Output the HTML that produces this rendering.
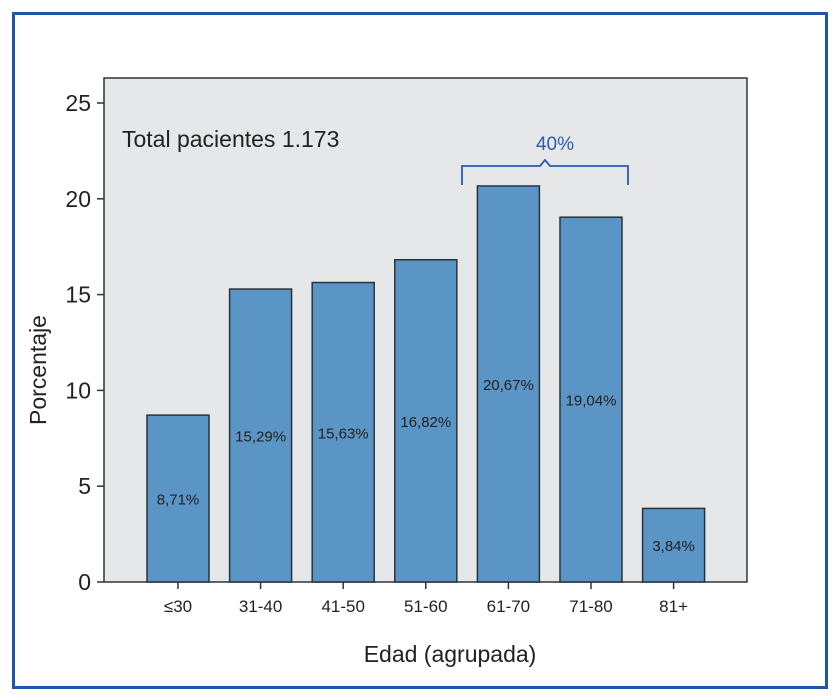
<!DOCTYPE html>
<html><head><meta charset="utf-8"><style>
html,body{margin:0;padding:0;background:#fff;}
svg{display:block;font-family:"Liberation Sans","DejaVu Sans",sans-serif;}
</style></head><body>
<svg width="835" height="700">
<rect x="13.5" y="13.5" width="813" height="674" fill="#fff" stroke="#1f56a8" stroke-width="3"/>
<rect x="104" y="78" width="643" height="504" fill="#e6e7e8" stroke="#333" stroke-width="1.5"/>
<g id="bars"></g>
<g id="axes"></g>
<text x="122" y="147" font-size="23" fill="#222">Total pacientes 1.173</text>
<path d="M462,185 V166 H540 L545,160 L550,166 H628 V185" fill="none" stroke="#2a5caa" stroke-width="1.8"/>
<text x="555" y="150" font-size="19" fill="#2a5caa" text-anchor="middle">40%</text>
<text x="450" y="662" font-size="23" fill="#222" text-anchor="middle">Edad (agrupada)</text>
<text transform="translate(46,370) rotate(-90)" font-size="23" fill="#222" text-anchor="middle">Porcentaje</text>
</svg>
<script>
const categories=["≤30","31-40","41-50","51-60","61-70","71-80","81+"];
const values=[8.71,15.29,15.63,16.82,20.67,19.04,3.84];
const valueLabels=["8,71%","15,29%","15,63%","16,82%","20,67%","19,04%","3,84%"];
const yTicks=[0,5,10,15,20,25];
const NS="http://www.w3.org/2000/svg";
const y=v=>582-v*19.16;
const x=i=>178+i*82.6;
const bars=document.getElementById('bars'),axes=document.getElementById('axes');
function mk(tag,attrs,parent,text){const e=document.createElementNS(NS,tag);for(const k in attrs)e.setAttribute(k,attrs[k]);if(text!==undefined)e.textContent=text;parent.appendChild(e);return e;}
values.forEach((v,i)=>{
 const r=mk('rect',{x:x(i)-31,y:y(v),width:62,height:582-y(v),fill:'#5a95c6',stroke:'#26343d','stroke-width':1.5},bars);
 
 
 const t=mk('text',{x:x(i),y:(y(v)+582)/2+6,'font-size':15,fill:'#222','text-anchor':'middle'},bars,valueLabels[i]);
 
 
 const tk=mk('line',{x1:x(i),x2:x(i),y1:582,y2:589,stroke:'#333','stroke-width':1.5},axes);
 
 
 const l=mk('text',{x:x(i),y:612,'font-size':17,fill:'#222','text-anchor':'middle'},axes,categories[i]);
 
 
});
yTicks.forEach(v=>{
 const tk=mk('line',{x1:97,x2:104,y1:y(v),y2:y(v),stroke:'#333','stroke-width':1.5},axes);
 
 
 const l=mk('text',{x:91,y:y(v)+8,'font-size':23,fill:'#222','text-anchor':'end'},axes,String(v));
 
 
});
</script>
</body></html>
